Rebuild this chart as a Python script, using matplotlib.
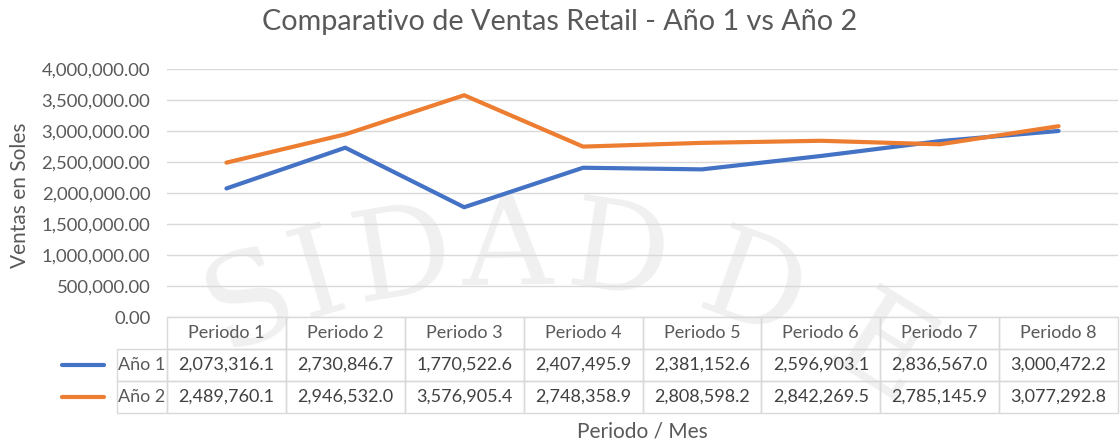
import numpy as np
import matplotlib.pyplot as plt
from matplotlib.lines import Line2D

plt.rcParams['font.family'] = ['Lato', 'DejaVu Sans']

periodos = ['Periodo 1', 'Periodo 2', 'Periodo 3', 'Periodo 4',
            'Periodo 5', 'Periodo 6', 'Periodo 7', 'Periodo 8']
series = ['Año 1', 'Año 2']
ano1 = [2073316.1, 2730846.7, 1770522.6, 2407495.9, 2381152.6, 2596903.1, 2836567.0, 3000472.2]
ano2 = [2489760.1, 2946532.0, 3576905.4, 2748358.9, 2808598.2, 2842269.5, 2785145.9, 3077292.8]
colores = ['#4472c4', '#ed7d31']
yticks = np.arange(0, 4000001, 500000)

W, H = 1120, 443
fig = plt.figure(figsize=(W / 100, H / 100), dpi=100)
ax = fig.add_axes([167 / W, 1 - 317 / H, (1118 - 167) / W, (317 - 69) / H])
ax.patch.set_visible(False)

# faint seal watermark behind the chart
sello = ['S', 'I', 'D', 'A', 'D', 'D', 'E']
sello_x = [250, 318, 402, 508, 618, 752, 880]
cx, cy, r = 515, 940, 690
for ch, px in zip(sello, sello_x):
    th = np.arcsin((px - cx) / r)
    py = cy - r * np.cos(th)
    fig.text(px / W, 1 - py / H, ch, ha='center', va='center', rotation=-np.degrees(th),
             fontsize=90, family='DejaVu Serif', color='#f0f0f0', zorder=-5)

x = np.arange(len(periodos))
for vals, c in zip([ano1, ano2], colores):
    ax.plot(x, vals, color=c, lw=3.0, solid_joinstyle='round', solid_capstyle='round', zorder=3)

ax.set_xlim(-0.5, len(periodos) - 0.5)
ax.set_ylim(0, 4000000)
ax.set_yticks(yticks)
ax.set_yticklabels([f'{v:,.2f}' for v in yticks], fontsize=13.3, color='#595959')
ax.set_xticks([])
ax.tick_params(axis='y', length=0, pad=12)
ax.grid(axis='y', color='#d9d9d9', lw=1)
for s in ax.spines.values():
    s.set_visible(False)

# data table under the plot
grey = '#d9d9d9'
ax_w = 1118 - 167
ax_h = 317 - 69
lab_w = (167 - 57) / ax_w
tab_h = 413 - 317
n = len(periodos)
celdas = [[f'{v:,.1f}' for v in vals] for vals in [ano1, ano2]]
tab = ax.table(cellText=celdas, rowLabels=series, colLabels=periodos,
               colWidths=[1 / n] * n, cellLoc='center', rowLoc='right',
               bbox=[0, -tab_h / ax_h, 1, tab_h / ax_h])
tab.auto_set_font_size(False)
tab.set_fontsize(13)
for (r_, c_), cell in tab.get_celld().items():
    cell.set_edgecolor(grey)
    cell.set_facecolor('none')
    cell.set_height(tab_h / 3 / ax_h)
    cell.set_clip_on(False)
    if c_ == -1:
        cell.set_width(lab_w)
        cell.PAD = 0.03
        cell.get_text().set_color('#595959')
    elif r_ == 0:
        cell.get_text().set_color('#595959')
    else:
        cell.get_text().set_color('#404040')

for i, c in enumerate(colores):
    yc = 1 - (365 + 32 * i) / H
    fig.add_artist(Line2D([62 / W, 104 / W], [yc, yc], color=c, lw=3.0, solid_capstyle='round'))

fig.text(0.5, 1 - 22 / H, 'Comparativo de Ventas Retail - Año 1 vs Año 2',
         ha='center', va='center', fontsize=20.7, color='#595959')
fig.text(20 / W, 1 - 195 / H, 'Ventas en Soles', rotation=90, ha='center', va='center',
         fontsize=15, color='#595959')
fig.text(642 / W, 1 - 432 / H, 'Periodo / Mes', ha='center', va='center',
         fontsize=15, color='#595959')

fig.savefig('out.png', dpi=100)
